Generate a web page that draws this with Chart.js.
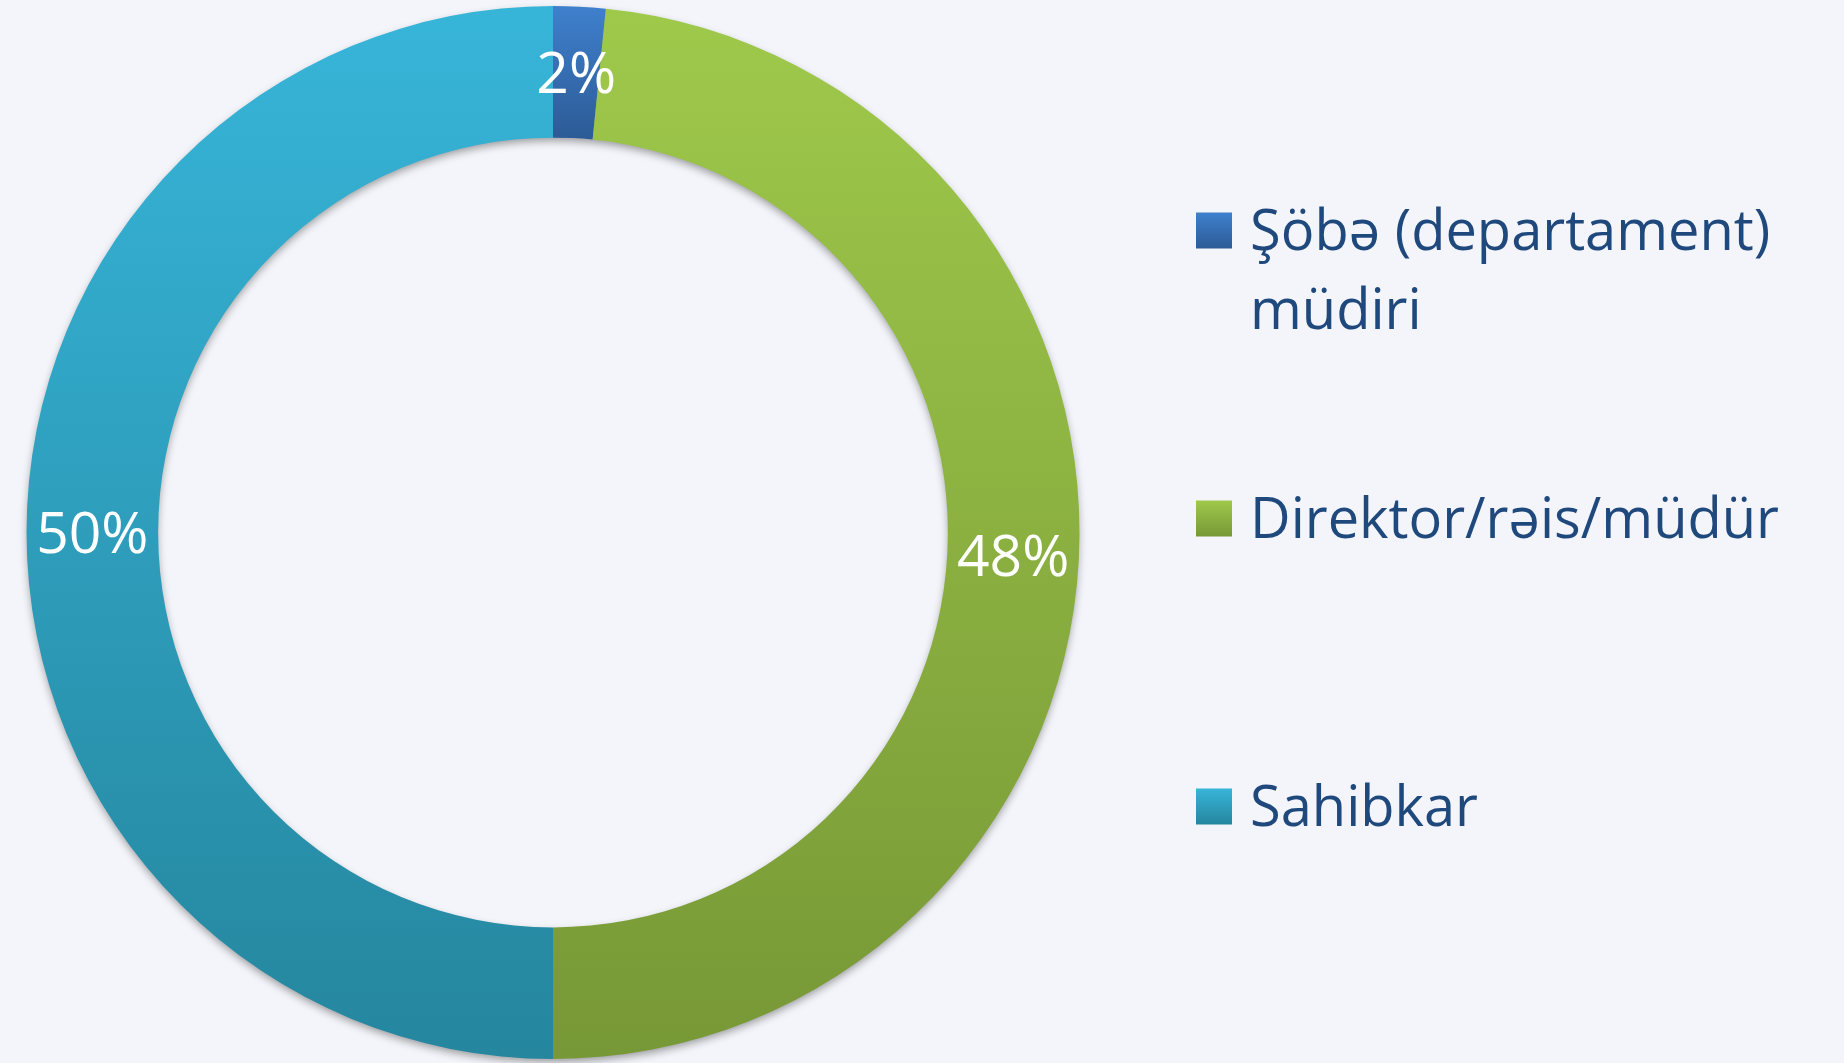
<!DOCTYPE html>
<html><head><meta charset="utf-8">
<script src="https://cdn.jsdelivr.net/npm/chart.js@4/dist/chart.umd.min.js"></script>
<style>
html,body{margin:0;padding:0;background:#f4f5fa;}
#wrap{width:1844px;height:1063px;position:relative;}
</style></head>
<body><div id="wrap"><canvas id="c" width="1844" height="1063"></canvas></div>
<script>
const categories = [["Şöbə (departament)", "müdiri"], "Direktor/rəis/müdür", "Sahibkar"];
const values = [1.6, 48.4, 50];
const valueLabels = ["2%", "48%", "50%"];
const topColors = ["#3f80cd", "#9fc94b", "#37b5d9"];
const bottomColors = ["#2c5b96", "#779836", "#25869e"];

const BG = "#f4f5fa";
const TEXT = "#1f497d";
const FONT = "'Open Sans', 'Noto Sans', sans-serif";

function arcYExtent(el) {
  const p = el.getProps(['x','y','startAngle','endAngle','innerRadius','outerRadius'], true);
  let ymin = Infinity, ymax = -Infinity;
  const n = 200;
  for (let k = 0; k <= n; k++) {
    const a = p.startAngle + (p.endAngle - p.startAngle) * k / n;
    for (const r of [p.innerRadius, p.outerRadius]) {
      const y = p.y + r * Math.sin(a);
      if (y < ymin) ymin = y;
      if (y > ymax) ymax = y;
    }
  }
  return [ymin, ymax, p];
}

const ringPlugin = {
  id: 'ring',
  beforeDatasetsDraw(chart) {
    const ctx = chart.ctx;
    const meta = chart.getDatasetMeta(0);
    const el0 = meta.data[0];
    const p = el0.getProps(['x','y','innerRadius','outerRadius'], true);
    ctx.save();
    ctx.shadowColor = 'rgba(0,0,0,0.38)';
    ctx.shadowBlur = 9;
    ctx.shadowOffsetY = 4;
    ctx.beginPath();
    ctx.arc(p.x, p.y, p.outerRadius - 1, 0, Math.PI * 2);
    ctx.arc(p.x, p.y, p.innerRadius + 1, 0, Math.PI * 2, true);
    ctx.closePath();
    ctx.fillStyle = '#888';
    ctx.fill();
    ctx.restore();
    meta.data.forEach((el, i) => {
      const [y0, y1] = arcYExtent(el);
      const g = ctx.createLinearGradient(0, y0, 0, y1);
      g.addColorStop(0, topColors[i]);
      g.addColorStop(1, bottomColors[i]);
      el.options = Object.assign({}, el.options, {backgroundColor: g, borderColor: g});
    });
  },
  afterDatasetsDraw(chart) {
    const ctx = chart.ctx;
    const meta = chart.getDatasetMeta(0);
    const size = 57;
    ctx.save();
    ctx.fillStyle = '#ffffff';
    ctx.font = size + 'px ' + FONT;
    ctx.textAlign = 'center';
    ctx.textBaseline = 'alphabetic';
    meta.data.forEach((el, i) => {
      const pos = el.tooltipPosition(true);
      ctx.fillText(valueLabels[i], pos.x, pos.y + size * 0.357);
    });
    ctx.restore();
  },
  afterDraw(chart) {
    const ctx = chart.ctx;
    const area = chart.chartArea;
    const size = 56;
    const box = 36;
    const lx = area.right + 116;
    const firstY = 230.5;
    const step = 288;
    const lineH = 78.5;
    ctx.save();
    ctx.font = size + 'px ' + FONT;
    ctx.textAlign = 'left';
    ctx.textBaseline = 'alphabetic';
    chart.data.labels.forEach((lab, i) => {
      const cy = firstY + i * step;
      const g = ctx.createLinearGradient(0, cy - box / 2, 0, cy + box / 2);
      g.addColorStop(0, topColors[i]);
      g.addColorStop(1, bottomColors[i]);
      ctx.fillStyle = g;
      ctx.fillRect(lx, cy - box / 2, box, box);
      ctx.fillStyle = TEXT;
      const lines = Array.isArray(lab) ? lab : [lab];
      lines.forEach((t, k) => {
        ctx.fillText(t, lx + 54, cy + size * 0.357 + k * lineH);
      });
    });
    ctx.restore();
  }
};

new Chart(document.getElementById('c'), {
  type: 'doughnut',
  data: {
    labels: categories,
    datasets: [{
      data: values,
      backgroundColor: topColors,
      borderWidth: 0,
      hoverOffset: 0
    }]
  },
  options: {
    responsive: false,
    animation: false,
    events: [],
    cutout: '75%',
    layout: { padding: { top: 6, bottom: 4, left: 26, right: 764 } },
    plugins: {
      legend: { display: false },
      tooltip: { enabled: false }
    }
  },
  plugins: [ringPlugin]
});
</script>
</body></html>
